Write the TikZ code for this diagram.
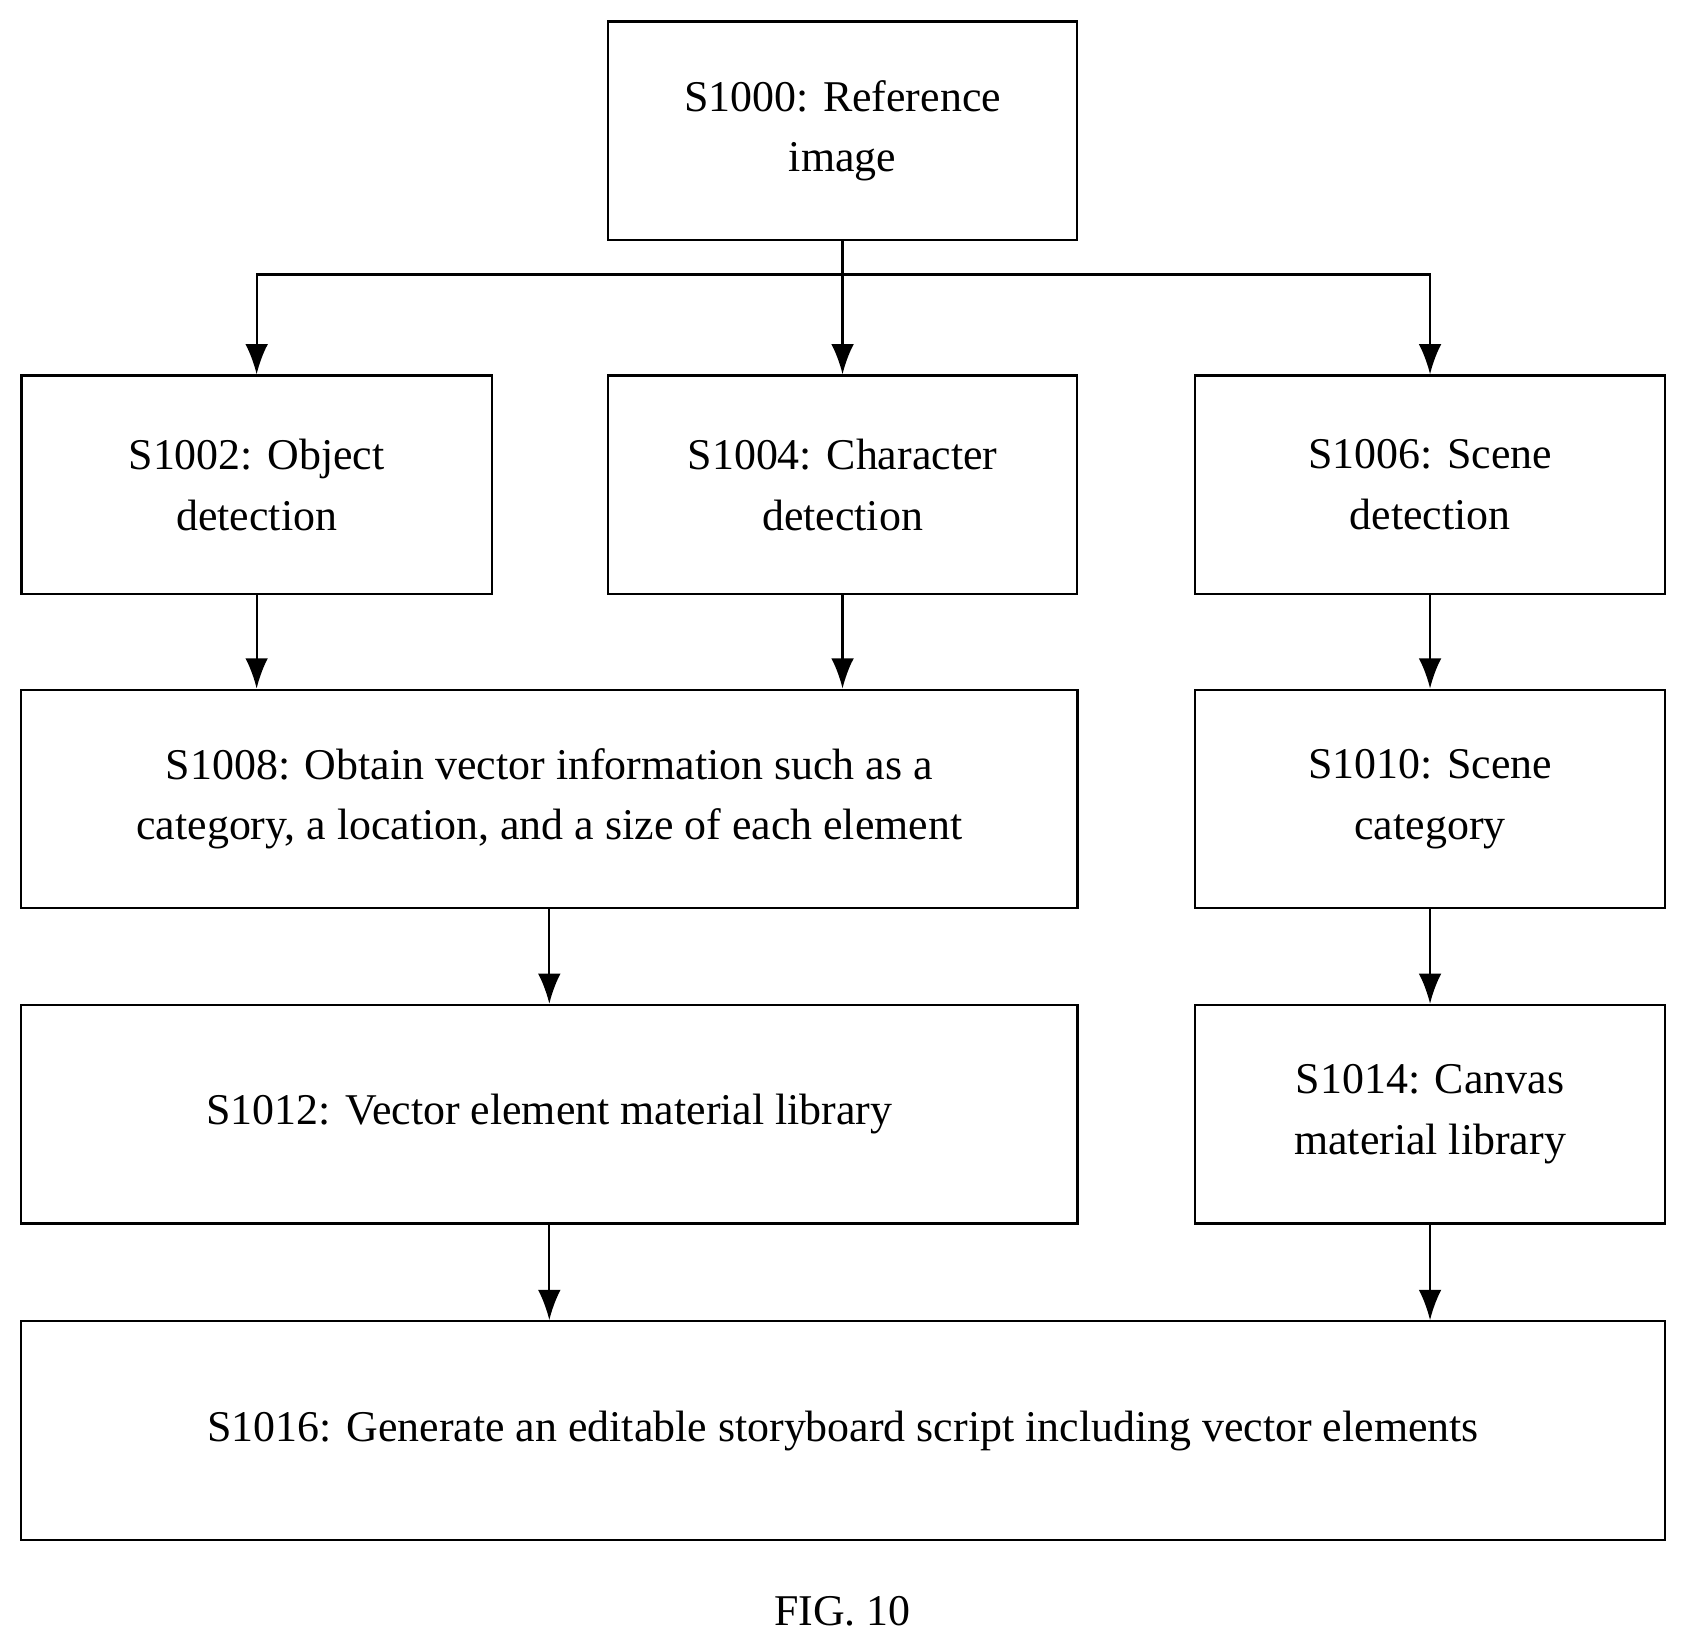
\documentclass[tikz,border=0pt]{standalone}
\usepackage{fontspec}
\setmainfont{Liberation Serif}
\usetikzlibrary{arrows.meta}
\begin{document}
\begin{tikzpicture}[x=0.01cm,y=-0.01cm,
    every node/.style={font=\fontsize{11.6}{16}\selectfont},
    box/.style={draw, line width=0.6pt, align=center, inner sep=0pt, minimum height=2.03cm},
    fleche/.style={-{Latex[length=8pt,width=6pt]}, line width=0.6pt}]
%
% Bounding box
%
\useasboundingbox (0,0) rectangle (1565,1530);
%
% Boxes
%
\node[box, minimum width=4.36cm] (ref) at (783,121.5) {S1000: Reference\\image};
\node[box, minimum width=4.37cm] (obj) at (238.5,450.5) {S1002: Object\\detection};
\node[box, minimum width=4.36cm] (chr) at (783,450.5) {S1004: Character\\detection};
\node[box, minimum width=4.36cm] (scn) at (1329,450.5) {S1006: Scene\\detection};
\node[box, minimum width=9.81cm] (vec) at (510.5,742.5) {S1008: Obtain vector information such as a\\category, a location, and a size of each element};
\node[box, minimum width=4.36cm] (cat) at (1329,742.5) {S1010: Scene\\category};
\node[box, minimum width=9.81cm] (lib) at (510.5,1035.5) {S1012: Vector element material library};
\node[box, minimum width=4.36cm] (can) at (1329,1035.5) {S1014: Canvas\\material library};
\node[box, minimum width=15.27cm] (gen) at (783.5,1329.5) {S1016: Generate an editable storyboard script including vector elements};
\node (fig) at (783,1497) {FIG. 10};
%
% Connectors
%
\coordinate (split) at (783,255);
\draw[line width=0.6pt] (ref.south) -- (split);
\draw[fleche] (split) -| (obj.north);
\draw[fleche] (split) -- (chr.north);
\draw[fleche] (split) -| (scn.north);
\draw[fleche] (obj.south) -- (obj.south |- vec.north);
\draw[fleche] (chr.south) -- (chr.south |- vec.north);
\draw[fleche] (scn.south) -- (cat.north);
\draw[fleche] (vec.south) -- (lib.north);
\draw[fleche] (cat.south) -- (can.north);
\draw[fleche] (lib.south) -- (lib.south |- gen.north);
\draw[fleche] (can.south) -- (can.south |- gen.north);
\end{tikzpicture}
\end{document}
